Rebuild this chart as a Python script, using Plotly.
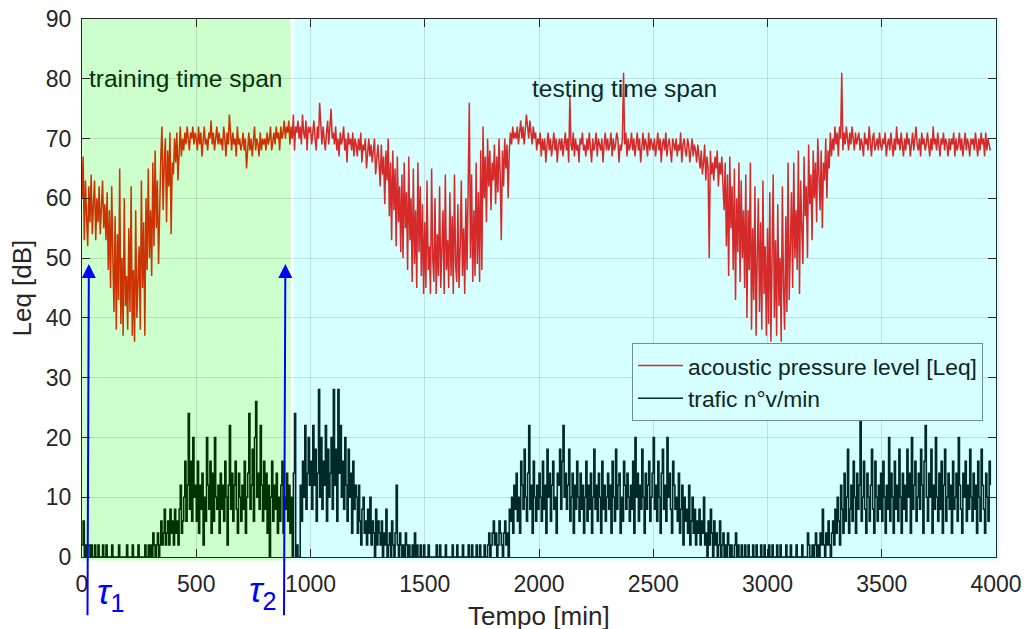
import numpy as np
import plotly.graph_objects as go

# ---------------- data (5-minute samples) ----------------
SAMPLE_MIN = 5

leq_db = [
    60,67,53,63,57,52,62,56,64,54,59,63,53,60,56,62,54,58,63,55,
    59,53,61,48,58,45,62,50,41,57,38,54,43,65,39,50,37,60,42,47,
    38,55,41,62,37,48,36,58,40,46,52,38,63,45,56,37,60,48,65,50,
    58,47,66,52,68,55,63,49,61,67,72,58,66,70,56,68,62,71,54,66,
    64,70,66,71,63,69,72,67,70,68,71,69,72,70,68,71,70,72,69,71,
    70,68,72,69,71,67,70,72,69,70,68,71,70,73,69,71,68,70,72,69,
    71,69,70,68,72,70,67,71,69,74,70,68,71,69,70,67,72,69,70,68,
    69,71,68,70,65,69,71,68,70,67,69,72,68,70,69,67,71,68,70,69,
    70,68,71,69,70,72,68,70,71,69,72,70,71,68,72,70,71,73,70,72,
    71,73,69,72,70,74,68,72,71,73,70,72,69,74,71,70,73,68,72,71,
    72,69,71,73,70,68,72,70,76,71,69,72,70,68,71,73,69,72,75,70,
    71,69,72,68,70,67,71,69,70,72,68,70,66,71,69,70,68,71,67,70,
    69,67,70,68,71,66,69,68,70,65,68,70,67,69,66,68,70,64,67,69,
    66,62,69,64,67,59,68,63,70,57,66,53,68,58,65,52,67,56,62,51,
    64,50,66,55,61,48,67,53,60,46,65,49,58,45,66,51,62,47,59,44,
    56,45,63,48,52,44,65,50,46,60,44,54,47,62,45,51,58,44,64,48,
    53,45,61,47,57,44,64,49,46,59,45,52,63,47,55,44,60,48,66,76,
    50,64,46,58,47,66,49,61,46,68,48,72,60,67,56,70,62,68,58,66,
    63,69,59,67,61,70,64,53,68,62,70,65,69,60,68,71,69,72,70,71,
    70,72,69,71,73,70,72,69,71,74,72,70,73,71,69,72,70,71,68,70,
    69,71,67,70,68,70,66,69,71,68,70,67,69,71,68,70,66,69,70,68,
    70,67,69,71,68,70,66,77,69,68,71,67,70,68,69,66,70,69,71,68,
    69,67,70,68,71,69,66,70,68,69,71,67,70,69,68,70,66,69,71,68,
    70,68,69,71,67,70,68,69,71,70,66,69,68,70,81,69,71,67,70,68,
    69,71,68,70,67,69,71,68,70,66,69,71,68,70,69,67,71,68,70,69,
    68,70,67,69,71,68,70,66,69,70,68,71,67,69,70,68,66,70,69,68,
    70,67,69,68,71,66,69,70,68,67,70,69,66,68,70,67,69,68,66,69,
    67,65,68,64,66,69,63,67,65,50,68,64,66,63,67,65,68,62,66,64,
    67,63,58,66,52,64,47,67,55,62,48,65,43,60,51,66,46,63,50,58,
    45,64,40,58,48,66,38,55,43,62,37,50,60,41,56,38,63,44,52,37,
    55,39,61,36,48,64,40,53,37,59,42,50,36,62,45,38,57,41,66,43,
    52,61,45,66,50,58,48,68,44,63,55,49,67,57,62,50,69,59,64,53,
    68,60,66,56,70,62,58,68,55,66,63,70,60,68,65,71,67,70,68,72,
    69,71,67,72,70,81,68,71,69,72,70,68,71,69,72,70,68,71,69,70,
    71,68,70,69,67,71,69,70,68,72,69,67,70,71,68,69,70,68,71,69,
    68,70,69,71,67,69,70,68,71,69,67,70,68,72,69,70,68,71,69,67,
    70,68,71,69,70,67,69,71,68,70,72,69,68,70,67,71,69,70,68,69,
    71,69,67,70,68,72,69,70,68,71,69,67,70,69,71,68,70,69,67,70,
    68,70,69,71,67,70,68,69,71,68,70,67,69,71,68,70,69,67,70,69,
    70,68,71,69,67,70,68,71,69,70,67,71,68,70,69,68,
]

traffic = [
    2,6,0,2,0,2,2,0,2,0,0,2,0,0,2,0,0,0,2,0,
    0,2,0,0,0,0,2,0,0,0,0,0,2,0,0,0,0,0,0,2,
    0,0,0,0,2,0,0,0,0,2,0,0,0,0,0,2,0,0,2,0,
    2,0,4,2,0,2,4,0,2,6,2,4,8,2,4,6,2,8,4,6,
    2,8,4,6,2,8,12,4,6,10,16,6,12,24,8,16,6,20,10,12,
    6,16,4,12,8,14,2,10,6,20,12,8,16,4,14,6,20,10,8,12,
    4,14,8,12,6,16,10,2,12,22,8,14,6,12,16,8,4,14,10,6,
    12,8,16,4,10,14,24,8,12,18,6,20,26,10,14,8,22,12,6,16,
    8,14,4,12,0,10,16,6,12,8,14,4,10,6,12,16,4,10,8,14,
    6,12,4,10,0,14,24,0,2,0,0,12,6,16,10,22,8,14,20,12,
    16,8,22,12,18,6,14,28,10,20,8,16,12,22,6,18,10,14,20,8,
    28,12,18,6,28,14,22,10,16,8,20,12,6,18,10,14,4,16,8,12,
    10,4,12,6,2,8,10,4,6,2,8,4,10,2,6,4,0,8,2,6,
    4,2,6,0,4,2,8,0,2,4,0,6,2,0,4,12,2,0,4,2,
    0,2,0,4,2,0,2,0,0,2,0,4,0,2,0,0,2,0,0,2,
    0,0,0,2,0,0,0,0,0,0,2,0,0,2,0,0,0,0,2,0,
    0,0,0,0,2,0,0,0,2,0,0,0,0,2,0,0,0,0,2,0,
    0,2,0,0,0,2,0,0,2,0,0,0,2,0,0,2,4,0,2,4,
    6,2,4,0,2,6,4,2,0,4,6,2,4,0,8,6,10,4,12,8,
    14,6,10,4,16,12,8,18,10,6,14,22,8,12,4,16,10,6,12,8,
    14,10,6,16,8,12,4,18,10,14,6,12,16,8,10,4,14,12,18,8,
    16,22,10,14,8,12,18,6,10,14,4,12,8,16,10,6,14,8,12,4,
    10,16,6,12,8,14,4,10,18,8,12,6,14,10,4,16,8,12,6,10,
    14,8,12,4,16,10,6,18,8,12,14,4,10,6,16,12,8,14,10,6,
    12,8,16,4,20,10,14,6,12,8,18,10,4,14,8,12,16,6,10,14,
    20,8,12,6,16,10,4,14,18,8,12,6,20,10,14,8,4,16,12,8,
    10,6,14,4,8,12,2,10,6,8,4,12,2,6,10,4,8,2,6,4,
    8,2,6,4,10,2,4,0,6,2,8,4,0,6,2,4,0,2,6,0,
    2,4,0,2,0,4,2,0,2,0,0,2,4,0,2,0,0,2,0,0,
    2,0,0,2,0,0,0,2,0,0,2,0,0,0,2,0,0,2,0,0,
    0,2,0,0,2,0,0,0,2,0,0,2,0,0,0,0,2,0,0,0,
    2,0,0,0,0,2,0,0,0,0,2,0,0,0,0,4,2,0,0,2,
    0,2,4,0,2,0,4,2,8,2,0,4,2,6,2,0,4,6,2,8,
    4,10,6,2,12,8,4,14,6,10,18,4,8,12,6,16,10,4,14,8,
    12,24,6,10,16,8,4,14,10,6,12,18,8,4,16,10,6,12,8,14,
    6,16,10,4,12,8,20,6,14,10,4,16,8,12,6,18,10,4,14,8,
    12,6,18,10,14,4,20,8,12,16,6,10,14,8,18,12,4,16,22,10,
    6,14,10,18,4,12,8,20,10,6,14,8,16,4,12,18,6,10,14,8,
    12,4,16,8,10,14,6,20,12,8,4,14,10,16,6,12,8,18,10,6,
    14,8,12,4,16,10,6,18,12,8,4,14,10,6,16,12,
]

SPLIT_MIN = 920          # end of training time span
TAU1 = 30                # tau_1 marker (min)
TAU2 = 890               # tau_2 marker (min)
ARROW_TOP = 49           # arrow tip level (dB)
X_RANGE = [0, 4000]
Y_RANGE = [0, 90]
X_TICKS = list(range(0, 4001, 500))
Y_TICKS = list(range(0, 91, 10))

# ---------------- styles ----------------
GREEN_BG = "#ccffcc"
CYAN_BG = "#d6ffff"
RED_TRAIN, RED_TEST = "#cc3300", "#d62929"
BLK_TRAIN, BLK_TEST = "#003300", "#002929"
AX_COL = "#262626"
FONT = "Liberation Sans, Arial, sans-serif"

t = np.arange(len(leq_db)) * SAMPLE_MIN
tt = np.arange(len(traffic)) * SAMPLE_MIN
leq = np.array(leq_db)
trf = np.array(traffic)
k = int(np.searchsorted(t, SPLIT_MIN))
kt = int(np.searchsorted(tt, SPLIT_MIN))

fig = go.Figure()
fig.add_trace(go.Scatter(x=t[:k + 1], y=leq[:k + 1], mode="lines",
                         line=dict(color=RED_TRAIN, width=1.5), showlegend=False,
                         hoverinfo="skip"))
fig.add_trace(go.Scatter(x=t[k:], y=leq[k:], mode="lines",
                         line=dict(color=RED_TEST, width=1.5),
                         name="acoustic pressure level [Leq]"))
fig.add_trace(go.Scatter(x=tt[:kt + 1], y=trf[:kt + 1], mode="lines",
                         line=dict(color=BLK_TRAIN, width=1.6, shape="hv"),
                         showlegend=False, hoverinfo="skip"))
fig.add_trace(go.Scatter(x=tt[kt:], y=trf[kt:], mode="lines",
                         line=dict(color=BLK_TEST, width=1.6, shape="hv"),
                         name="trafic n°v/min"))

W, H = 1026, 629
PL, PR, PT, PB = 81.5, 995.7, 18.7, 556.7   # target plot box in window pixels
ML, MR, MT, MB = PL, W - PR, PT, H - PB
pw, ph = PR - PL, PB - PT
def xp(v):
    return (v - X_RANGE[0]) / (X_RANGE[1] - X_RANGE[0])
def yp(py):
    return (PB - py) / ph
def xpp(px):
    return (px - PL) / pw

below = -3.5 / ph
gap = 1.5 / pw
fig.add_shape(type="rect", xref="paper", yref="paper",
              x0=0, x1=xp(SPLIT_MIN) - gap, y0=below, y1=1,
              fillcolor=GREEN_BG, line=dict(width=0), layer="below")
fig.add_shape(type="rect", xref="paper", yref="paper",
              x0=xp(SPLIT_MIN) + gap, x1=1 + 3 / pw, y0=below, y1=1,
              fillcolor=CYAN_BG, line=dict(width=0), layer="below")

ann = []
ann.append(dict(x=24, y=80.0, xref="x", yref="y", text="training time span",
                showarrow=False, xanchor="left", yanchor="middle",
                font=dict(family=FONT, size=24.5, color="#003300")))
ann.append(dict(x=1962, y=78.3, xref="x", yref="y", text="testing time span",
                showarrow=False, xanchor="left", yanchor="middle",
                font=dict(family=FONT, size=24.5, color="#0a2a2a")))
# arrows for tau markers
for tx in (TAU1, TAU2):
    ann.append(dict(x=tx, y=ARROW_TOP, xref="x", yref="y",
                    ax=tx - 6, ay=-10, axref="x", ayref="y",
                    text="", showarrow=True, arrowhead=2, arrowsize=1.4,
                    arrowwidth=2, arrowcolor="#0000ff", standoff=0))
# tau labels
for sub, px, py in (("1", 110, 594), ("2", 262, 592)):
    ann.append(dict(x=xpp(px), y=yp(py), xref="paper", yref="paper",
                    text="<i>τ</i><sub>" + sub + "</sub>", showarrow=False,
                    xanchor="center", yanchor="middle",
                    font=dict(family=FONT, size=36, color="#0000ff")))
# axis titles
ann.append(dict(x=0.5, y=yp(616), xref="paper", yref="paper", text="Tempo [min]",
                showarrow=False, xanchor="center", yanchor="middle",
                font=dict(family=FONT, size=26, color=AX_COL)))
ann.append(dict(x=xpp(21), y=0.5, xref="paper", yref="paper", text="Leq [dB]",
                showarrow=False, xanchor="center", yanchor="middle", textangle=-90,
                font=dict(family=FONT, size=26, color=AX_COL)))

axis_common = dict(showline=True, linecolor=AX_COL, linewidth=1, mirror="ticks",
                   ticks="inside", ticklen=8, tickcolor=AX_COL, tickwidth=1,
                   showgrid=True, gridcolor="rgba(38,38,38,0.15)", gridwidth=1,
                   zeroline=False, automargin=False, ticklabeloverflow="allow",
                   tickfont=dict(family=FONT, size=23, color=AX_COL))

fig.update_layout(
    width=W, height=H,
    margin=dict(l=ML, r=MR, t=MT, b=MB, autoexpand=False),
    paper_bgcolor="white", plot_bgcolor="white",
    xaxis=dict(range=X_RANGE, tickvals=X_TICKS, ticklabelstandoff=6, **axis_common),
    yaxis=dict(range=Y_RANGE, tickvals=Y_TICKS, ticklabelstandoff=5, **axis_common),
    legend=dict(x=xpp(982.7), y=yp(343), xanchor="right", yanchor="top",
                bgcolor=CYAN_BG, bordercolor="#6e8f8f", borderwidth=1,
                font=dict(family=FONT, size=22.8, color="#0d2626"),
                itemwidth=45, tracegroupgap=0),
    annotations=ann,
    showlegend=True,
)

# remove the page's default 8px body margin so the figure fills the window exactly
fig.write_html("out.html", config={"displayModeBar": False},
               post_script="document.body.style.margin='0px';")
